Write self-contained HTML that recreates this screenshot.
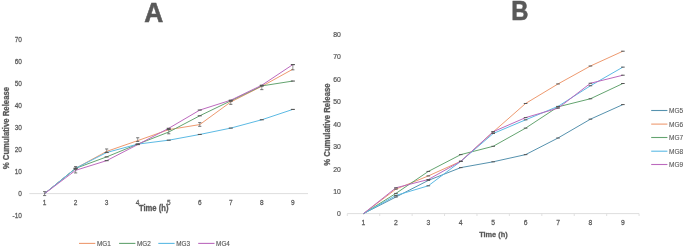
<!DOCTYPE html>
<html><head><meta charset="utf-8"><style>
html,body{margin:0;padding:0;background:#fff;width:685px;height:247px;overflow:hidden}
svg text{font-family:"Liberation Sans", sans-serif}
</style></head><body>
<svg width="685" height="247" viewBox="0 0 685 247" style="display:block;will-change:transform">
<rect width="685" height="247" fill="#fff"/>
<text transform="translate(153.70 22.30) scale(0.924 1)" font-size="28.5" font-weight="bold" text-anchor="middle" fill="#595959" stroke="#595959" stroke-width="0.6">A</text>
<line x1="29.3" y1="193.6" x2="308.0" y2="193.6" stroke="#dedede" stroke-width="1"/>
<text transform="translate(21.90 218.23) scale(0.86 1)" font-size="7.6" text-anchor="end" fill="#595959" stroke="#595959" stroke-width="0.25">-10</text>
<text transform="translate(21.90 196.25) scale(0.86 1)" font-size="7.6" text-anchor="end" fill="#595959" stroke="#595959" stroke-width="0.25">0</text>
<text transform="translate(21.90 174.27) scale(0.86 1)" font-size="7.6" text-anchor="end" fill="#595959" stroke="#595959" stroke-width="0.25">10</text>
<text transform="translate(21.90 152.29) scale(0.86 1)" font-size="7.6" text-anchor="end" fill="#595959" stroke="#595959" stroke-width="0.25">20</text>
<text transform="translate(21.90 130.31) scale(0.86 1)" font-size="7.6" text-anchor="end" fill="#595959" stroke="#595959" stroke-width="0.25">30</text>
<text transform="translate(21.90 108.33) scale(0.86 1)" font-size="7.6" text-anchor="end" fill="#595959" stroke="#595959" stroke-width="0.25">40</text>
<text transform="translate(21.90 86.35) scale(0.86 1)" font-size="7.6" text-anchor="end" fill="#595959" stroke="#595959" stroke-width="0.25">50</text>
<text transform="translate(21.90 64.37) scale(0.86 1)" font-size="7.6" text-anchor="end" fill="#595959" stroke="#595959" stroke-width="0.25">60</text>
<text transform="translate(21.90 42.39) scale(0.86 1)" font-size="7.6" text-anchor="end" fill="#595959" stroke="#595959" stroke-width="0.25">70</text>
<text transform="translate(44.60 205.30) scale(0.86 1)" font-size="7.6" text-anchor="middle" fill="#595959" stroke="#595959" stroke-width="0.25">1</text>
<text transform="translate(75.63 205.30) scale(0.86 1)" font-size="7.6" text-anchor="middle" fill="#595959" stroke="#595959" stroke-width="0.25">2</text>
<text transform="translate(106.66 205.30) scale(0.86 1)" font-size="7.6" text-anchor="middle" fill="#595959" stroke="#595959" stroke-width="0.25">3</text>
<text transform="translate(137.69 205.30) scale(0.86 1)" font-size="7.6" text-anchor="middle" fill="#595959" stroke="#595959" stroke-width="0.25">4</text>
<text transform="translate(168.72 205.30) scale(0.86 1)" font-size="7.6" text-anchor="middle" fill="#595959" stroke="#595959" stroke-width="0.25">5</text>
<text transform="translate(199.75 205.30) scale(0.86 1)" font-size="7.6" text-anchor="middle" fill="#595959" stroke="#595959" stroke-width="0.25">6</text>
<text transform="translate(230.78 205.30) scale(0.86 1)" font-size="7.6" text-anchor="middle" fill="#595959" stroke="#595959" stroke-width="0.25">7</text>
<text transform="translate(261.81 205.30) scale(0.86 1)" font-size="7.6" text-anchor="middle" fill="#595959" stroke="#595959" stroke-width="0.25">8</text>
<text transform="translate(292.84 205.30) scale(0.86 1)" font-size="7.6" text-anchor="middle" fill="#595959" stroke="#595959" stroke-width="0.25">9</text>
<text transform="translate(153.70 210.80) scale(0.887 1)" font-size="8.6" font-weight="bold" text-anchor="middle" fill="#595959" stroke="#595959" stroke-width="0.3">Time (h)</text>
<text transform="translate(8.70 128.10) rotate(-90) scale(0.925 1)" font-size="8.4" font-weight="bold" text-anchor="middle" fill="#595959" stroke="#595959" stroke-width="0.3">% Cumulative Release</text>
<polyline points="44.60,193.60 75.63,168.32 106.66,151.40 137.69,140.63 168.72,129.64 199.75,124.58 230.78,101.94 261.81,86.34 292.84,69.19" fill="none" stroke="#ee9a70" stroke-width="1.0" stroke-linejoin="round"/>
<polyline points="44.60,193.60 75.63,168.32 106.66,156.89 137.69,144.14 168.72,132.06 199.75,115.79 230.78,100.84 261.81,85.90 292.84,81.06" fill="none" stroke="#64a470" stroke-width="1.0" stroke-linejoin="round"/>
<polyline points="44.60,193.60 75.63,168.32 106.66,152.50 137.69,144.14 168.72,140.19 199.75,134.47 230.78,128.10 261.81,119.75 292.84,109.42" fill="none" stroke="#5cbae4" stroke-width="1.0" stroke-linejoin="round"/>
<polyline points="44.60,193.60 75.63,170.30 106.66,160.63 137.69,144.58 168.72,128.32 199.75,110.08 230.78,100.19 261.81,85.24 292.84,64.58" fill="none" stroke="#bc6abe" stroke-width="1.0" stroke-linejoin="round"/>
<path d="M43.00 191.62H46.20M43.00 195.58H46.20" stroke="#555" stroke-width="0.8" fill="none"/>
<path d="M44.60 191.62V195.58" stroke="#555" stroke-width="0.6" fill="none"/>
<path d="M74.03 166.56H77.23M74.03 168.98H77.23" stroke="#555" stroke-width="0.8" fill="none"/>
<path d="M75.63 166.56V168.98" stroke="#555" stroke-width="0.6" fill="none"/>
<path d="M105.06 148.98H108.26M105.06 152.28H108.26" stroke="#555" stroke-width="0.8" fill="none"/>
<path d="M106.66 148.98V152.28" stroke="#555" stroke-width="0.6" fill="none"/>
<path d="M136.09 137.77H139.29M136.09 141.51H139.29" stroke="#555" stroke-width="0.8" fill="none"/>
<path d="M137.69 137.77V141.51" stroke="#555" stroke-width="0.6" fill="none"/>
<path d="M166.72 129.64H170.72" stroke="#555" stroke-width="1.1" fill="none"/>
<path d="M198.15 122.60H201.35M198.15 126.34H201.35" stroke="#555" stroke-width="0.8" fill="none"/>
<path d="M199.75 122.60V126.34" stroke="#555" stroke-width="0.6" fill="none"/>
<path d="M229.18 101.28H232.38M229.18 104.36H232.38" stroke="#555" stroke-width="0.8" fill="none"/>
<path d="M230.78 101.28V104.36" stroke="#555" stroke-width="0.6" fill="none"/>
<path d="M260.21 85.68H263.41M260.21 89.63H263.41" stroke="#555" stroke-width="0.8" fill="none"/>
<path d="M261.81 85.68V89.63" stroke="#555" stroke-width="0.6" fill="none"/>
<path d="M291.24 64.58H294.44M291.24 69.85H294.44" stroke="#555" stroke-width="0.8" fill="none"/>
<path d="M292.84 64.58V69.85" stroke="#555" stroke-width="0.6" fill="none"/>
<path d="M73.63 168.32H77.63" stroke="#555" stroke-width="1.1" fill="none"/>
<path d="M104.66 156.89H108.66" stroke="#555" stroke-width="1.1" fill="none"/>
<path d="M135.69 144.14H139.69" stroke="#555" stroke-width="1.1" fill="none"/>
<path d="M167.12 128.76H170.32M167.12 133.81H170.32" stroke="#555" stroke-width="0.8" fill="none"/>
<path d="M168.72 128.76V133.81" stroke="#555" stroke-width="0.6" fill="none"/>
<path d="M197.75 115.79H201.75" stroke="#555" stroke-width="1.1" fill="none"/>
<path d="M228.78 100.84H232.78" stroke="#555" stroke-width="1.1" fill="none"/>
<path d="M259.81 85.90H263.81" stroke="#555" stroke-width="1.1" fill="none"/>
<path d="M290.84 81.06H294.84" stroke="#555" stroke-width="1.1" fill="none"/>
<path d="M73.63 168.32H77.63" stroke="#555" stroke-width="1.1" fill="none"/>
<path d="M104.66 152.50H108.66" stroke="#555" stroke-width="1.1" fill="none"/>
<path d="M135.69 144.14H139.69" stroke="#555" stroke-width="1.1" fill="none"/>
<path d="M166.72 140.19H170.72" stroke="#555" stroke-width="1.1" fill="none"/>
<path d="M197.75 134.47H201.75" stroke="#555" stroke-width="1.1" fill="none"/>
<path d="M228.78 128.10H232.78" stroke="#555" stroke-width="1.1" fill="none"/>
<path d="M259.81 119.75H263.81" stroke="#555" stroke-width="1.1" fill="none"/>
<path d="M290.84 109.42H294.84" stroke="#555" stroke-width="1.1" fill="none"/>
<path d="M74.03 169.42H77.23M74.03 172.94H77.23" stroke="#555" stroke-width="0.8" fill="none"/>
<path d="M75.63 169.42V172.94" stroke="#555" stroke-width="0.6" fill="none"/>
<path d="M104.66 160.63H108.66" stroke="#555" stroke-width="1.1" fill="none"/>
<path d="M135.69 144.58H139.69" stroke="#555" stroke-width="1.1" fill="none"/>
<path d="M166.72 128.32H170.72" stroke="#555" stroke-width="1.1" fill="none"/>
<path d="M197.75 110.08H201.75" stroke="#555" stroke-width="1.1" fill="none"/>
<path d="M228.78 100.19H232.78" stroke="#555" stroke-width="1.1" fill="none"/>
<path d="M259.81 85.24H263.81" stroke="#555" stroke-width="1.1" fill="none"/>
<path d="M290.84 64.58H294.84" stroke="#555" stroke-width="1.1" fill="none"/>
<line x1="79" y1="243.4" x2="95.3" y2="243.4" stroke="#ee9a70" stroke-width="1.1"/>
<text x="96.9" y="246.0" font-size="7.5" fill="#595959" stroke="#595959" stroke-width="0.15" textLength="13.8" lengthAdjust="spacingAndGlyphs">MG1</text>
<line x1="119.1" y1="243.4" x2="135.4" y2="243.4" stroke="#64a470" stroke-width="1.1"/>
<text x="137.0" y="246.0" font-size="7.5" fill="#595959" stroke="#595959" stroke-width="0.15" textLength="13.8" lengthAdjust="spacingAndGlyphs">MG2</text>
<line x1="158.3" y1="243.4" x2="174.60000000000002" y2="243.4" stroke="#5cbae4" stroke-width="1.1"/>
<text x="176.20000000000002" y="246.0" font-size="7.5" fill="#595959" stroke="#595959" stroke-width="0.15" textLength="13.8" lengthAdjust="spacingAndGlyphs">MG3</text>
<line x1="198.2" y1="243.4" x2="214.5" y2="243.4" stroke="#bc6abe" stroke-width="1.1"/>
<text x="216.1" y="246.0" font-size="7.5" fill="#595959" stroke="#595959" stroke-width="0.15" textLength="13.8" lengthAdjust="spacingAndGlyphs">MG4</text>
<text transform="translate(519.90 20.20) scale(0.835 1)" font-size="28.5" font-weight="bold" text-anchor="middle" fill="#595959" stroke="#595959" stroke-width="0.6">B</text>
<line x1="347.3" y1="213.6" x2="639.1" y2="213.6" stroke="#dedede" stroke-width="1"/>
<line x1="347.30" y1="213.6" x2="347.30" y2="216.0" stroke="#dedede" stroke-width="0.9"/>
<line x1="379.72" y1="213.6" x2="379.72" y2="216.0" stroke="#dedede" stroke-width="0.9"/>
<line x1="412.14" y1="213.6" x2="412.14" y2="216.0" stroke="#dedede" stroke-width="0.9"/>
<line x1="444.56" y1="213.6" x2="444.56" y2="216.0" stroke="#dedede" stroke-width="0.9"/>
<line x1="476.98" y1="213.6" x2="476.98" y2="216.0" stroke="#dedede" stroke-width="0.9"/>
<line x1="509.40" y1="213.6" x2="509.40" y2="216.0" stroke="#dedede" stroke-width="0.9"/>
<line x1="541.82" y1="213.6" x2="541.82" y2="216.0" stroke="#dedede" stroke-width="0.9"/>
<line x1="574.24" y1="213.6" x2="574.24" y2="216.0" stroke="#dedede" stroke-width="0.9"/>
<line x1="606.66" y1="213.6" x2="606.66" y2="216.0" stroke="#dedede" stroke-width="0.9"/>
<line x1="639.08" y1="213.6" x2="639.08" y2="216.0" stroke="#dedede" stroke-width="0.9"/>
<text transform="translate(340.80 216.40) scale(0.85 1)" font-size="8.1" text-anchor="end" fill="#595959" stroke="#595959" stroke-width="0.25">0</text>
<text transform="translate(340.80 193.97) scale(0.85 1)" font-size="8.1" text-anchor="end" fill="#595959" stroke="#595959" stroke-width="0.25">10</text>
<text transform="translate(340.80 171.54) scale(0.85 1)" font-size="8.1" text-anchor="end" fill="#595959" stroke="#595959" stroke-width="0.25">20</text>
<text transform="translate(340.80 149.11) scale(0.85 1)" font-size="8.1" text-anchor="end" fill="#595959" stroke="#595959" stroke-width="0.25">30</text>
<text transform="translate(340.80 126.68) scale(0.85 1)" font-size="8.1" text-anchor="end" fill="#595959" stroke="#595959" stroke-width="0.25">40</text>
<text transform="translate(340.80 104.25) scale(0.85 1)" font-size="8.1" text-anchor="end" fill="#595959" stroke="#595959" stroke-width="0.25">50</text>
<text transform="translate(340.80 81.82) scale(0.85 1)" font-size="8.1" text-anchor="end" fill="#595959" stroke="#595959" stroke-width="0.25">60</text>
<text transform="translate(340.80 59.39) scale(0.85 1)" font-size="8.1" text-anchor="end" fill="#595959" stroke="#595959" stroke-width="0.25">70</text>
<text transform="translate(340.80 36.96) scale(0.85 1)" font-size="8.1" text-anchor="end" fill="#595959" stroke="#595959" stroke-width="0.25">80</text>
<text transform="translate(363.50 225.30) scale(0.86 1)" font-size="7.9" text-anchor="middle" fill="#595959" stroke="#595959" stroke-width="0.25">1</text>
<text transform="translate(395.92 225.30) scale(0.86 1)" font-size="7.9" text-anchor="middle" fill="#595959" stroke="#595959" stroke-width="0.25">2</text>
<text transform="translate(428.34 225.30) scale(0.86 1)" font-size="7.9" text-anchor="middle" fill="#595959" stroke="#595959" stroke-width="0.25">3</text>
<text transform="translate(460.76 225.30) scale(0.86 1)" font-size="7.9" text-anchor="middle" fill="#595959" stroke="#595959" stroke-width="0.25">4</text>
<text transform="translate(493.18 225.30) scale(0.86 1)" font-size="7.9" text-anchor="middle" fill="#595959" stroke="#595959" stroke-width="0.25">5</text>
<text transform="translate(525.60 225.30) scale(0.86 1)" font-size="7.9" text-anchor="middle" fill="#595959" stroke="#595959" stroke-width="0.25">6</text>
<text transform="translate(558.02 225.30) scale(0.86 1)" font-size="7.9" text-anchor="middle" fill="#595959" stroke="#595959" stroke-width="0.25">7</text>
<text transform="translate(590.44 225.30) scale(0.86 1)" font-size="7.9" text-anchor="middle" fill="#595959" stroke="#595959" stroke-width="0.25">8</text>
<text transform="translate(622.86 225.30) scale(0.86 1)" font-size="7.9" text-anchor="middle" fill="#595959" stroke="#595959" stroke-width="0.25">9</text>
<text transform="translate(493.40 236.60) scale(0.935 1)" font-size="7.9" font-weight="bold" text-anchor="middle" fill="#595959" stroke="#595959" stroke-width="0.3">Time (h)</text>
<text transform="translate(329.80 124.60) rotate(-90) scale(0.925 1)" font-size="8.4" font-weight="bold" text-anchor="middle" fill="#595959" stroke="#595959" stroke-width="0.3">% Cumulative Release</text>
<polyline points="363.50,213.60 395.92,197.00 428.34,180.40 460.76,167.62 493.18,161.79 525.60,154.61 558.02,138.01 590.44,119.17 622.86,104.59" fill="none" stroke="#5692ae" stroke-width="1.0" stroke-linejoin="round"/>
<polyline points="363.50,213.60 395.92,189.15 428.34,175.92 460.76,161.34 493.18,131.95 525.60,103.47 558.02,83.95 590.44,66.01 622.86,51.21" fill="none" stroke="#ee9a70" stroke-width="1.0" stroke-linejoin="round"/>
<polyline points="363.50,213.60 395.92,193.41 428.34,171.43 460.76,154.61 493.18,146.31 525.60,128.14 558.02,106.83 590.44,98.76 622.86,83.51" fill="none" stroke="#64a470" stroke-width="1.0" stroke-linejoin="round"/>
<polyline points="363.50,213.60 395.92,195.43 428.34,185.79 460.76,161.34 493.18,133.52 525.60,119.84 558.02,106.38 590.44,85.75 622.86,67.13" fill="none" stroke="#5cbae4" stroke-width="1.0" stroke-linejoin="round"/>
<polyline points="363.50,213.60 395.92,187.81 428.34,179.51 460.76,161.34 493.18,131.73 525.60,117.60 558.02,108.18 590.44,83.28 622.86,75.21" fill="none" stroke="#bc6abe" stroke-width="1.0" stroke-linejoin="round"/>
<path d="M394.12 197.00H397.72" stroke="#555" stroke-width="1" fill="none"/>
<path d="M426.54 180.40H430.14" stroke="#555" stroke-width="1" fill="none"/>
<path d="M458.96 167.62H462.56" stroke="#555" stroke-width="1" fill="none"/>
<path d="M491.38 161.79H494.98" stroke="#555" stroke-width="1" fill="none"/>
<path d="M523.80 154.61H527.40" stroke="#555" stroke-width="1" fill="none"/>
<path d="M556.22 138.01H559.82" stroke="#555" stroke-width="1" fill="none"/>
<path d="M588.64 119.17H592.24" stroke="#555" stroke-width="1" fill="none"/>
<path d="M621.06 104.59H624.66" stroke="#555" stroke-width="1" fill="none"/>
<path d="M394.12 189.15H397.72" stroke="#555" stroke-width="1" fill="none"/>
<path d="M426.54 175.92H430.14" stroke="#555" stroke-width="1" fill="none"/>
<path d="M458.96 161.34H462.56" stroke="#555" stroke-width="1" fill="none"/>
<path d="M491.38 131.95H494.98" stroke="#555" stroke-width="1" fill="none"/>
<path d="M523.80 103.47H527.40" stroke="#555" stroke-width="1" fill="none"/>
<path d="M556.22 83.95H559.82" stroke="#555" stroke-width="1" fill="none"/>
<path d="M588.64 66.01H592.24" stroke="#555" stroke-width="1" fill="none"/>
<path d="M621.06 51.21H624.66" stroke="#555" stroke-width="1" fill="none"/>
<path d="M394.12 193.41H397.72" stroke="#555" stroke-width="1" fill="none"/>
<path d="M426.54 171.43H430.14" stroke="#555" stroke-width="1" fill="none"/>
<path d="M458.96 154.61H462.56" stroke="#555" stroke-width="1" fill="none"/>
<path d="M491.38 146.31H494.98" stroke="#555" stroke-width="1" fill="none"/>
<path d="M523.80 128.14H527.40" stroke="#555" stroke-width="1" fill="none"/>
<path d="M556.22 106.83H559.82" stroke="#555" stroke-width="1" fill="none"/>
<path d="M588.64 98.76H592.24" stroke="#555" stroke-width="1" fill="none"/>
<path d="M621.06 83.51H624.66" stroke="#555" stroke-width="1" fill="none"/>
<path d="M394.12 195.43H397.72" stroke="#555" stroke-width="1" fill="none"/>
<path d="M426.54 185.79H430.14" stroke="#555" stroke-width="1" fill="none"/>
<path d="M458.96 161.34H462.56" stroke="#555" stroke-width="1" fill="none"/>
<path d="M491.38 133.52H494.98" stroke="#555" stroke-width="1" fill="none"/>
<path d="M523.80 119.84H527.40" stroke="#555" stroke-width="1" fill="none"/>
<path d="M556.22 106.38H559.82" stroke="#555" stroke-width="1" fill="none"/>
<path d="M588.64 85.75H592.24" stroke="#555" stroke-width="1" fill="none"/>
<path d="M621.06 67.13H624.66" stroke="#555" stroke-width="1" fill="none"/>
<path d="M394.12 187.81H397.72" stroke="#555" stroke-width="1" fill="none"/>
<path d="M426.54 179.51H430.14" stroke="#555" stroke-width="1" fill="none"/>
<path d="M458.96 161.34H462.56" stroke="#555" stroke-width="1" fill="none"/>
<path d="M491.38 131.73H494.98" stroke="#555" stroke-width="1" fill="none"/>
<path d="M523.80 117.60H527.40" stroke="#555" stroke-width="1" fill="none"/>
<path d="M556.22 108.18H559.82" stroke="#555" stroke-width="1" fill="none"/>
<path d="M588.64 83.28H592.24" stroke="#555" stroke-width="1" fill="none"/>
<path d="M621.06 75.21H624.66" stroke="#555" stroke-width="1" fill="none"/>
<line x1="651.2" y1="110.5" x2="667.4" y2="110.5" stroke="#5692ae" stroke-width="1.1"/>
<text x="669" y="113.1" font-size="7.5" fill="#595959" stroke="#595959" stroke-width="0.12" textLength="14.1" lengthAdjust="spacingAndGlyphs">MG5</text>
<line x1="651.2" y1="124.1" x2="667.4" y2="124.1" stroke="#ee9a70" stroke-width="1.1"/>
<text x="669" y="126.69999999999999" font-size="7.5" fill="#595959" stroke="#595959" stroke-width="0.12" textLength="14.1" lengthAdjust="spacingAndGlyphs">MG6</text>
<line x1="651.2" y1="137.5" x2="667.4" y2="137.5" stroke="#64a470" stroke-width="1.1"/>
<text x="669" y="140.1" font-size="7.5" fill="#595959" stroke="#595959" stroke-width="0.12" textLength="14.1" lengthAdjust="spacingAndGlyphs">MG7</text>
<line x1="651.2" y1="151.2" x2="667.4" y2="151.2" stroke="#5cbae4" stroke-width="1.1"/>
<text x="669" y="153.79999999999998" font-size="7.5" fill="#595959" stroke="#595959" stroke-width="0.12" textLength="14.1" lengthAdjust="spacingAndGlyphs">MG8</text>
<line x1="651.2" y1="164.5" x2="667.4" y2="164.5" stroke="#bc6abe" stroke-width="1.1"/>
<text x="669" y="167.1" font-size="7.5" fill="#595959" stroke="#595959" stroke-width="0.12" textLength="14.1" lengthAdjust="spacingAndGlyphs">MG9</text>
</svg>
</body></html>
